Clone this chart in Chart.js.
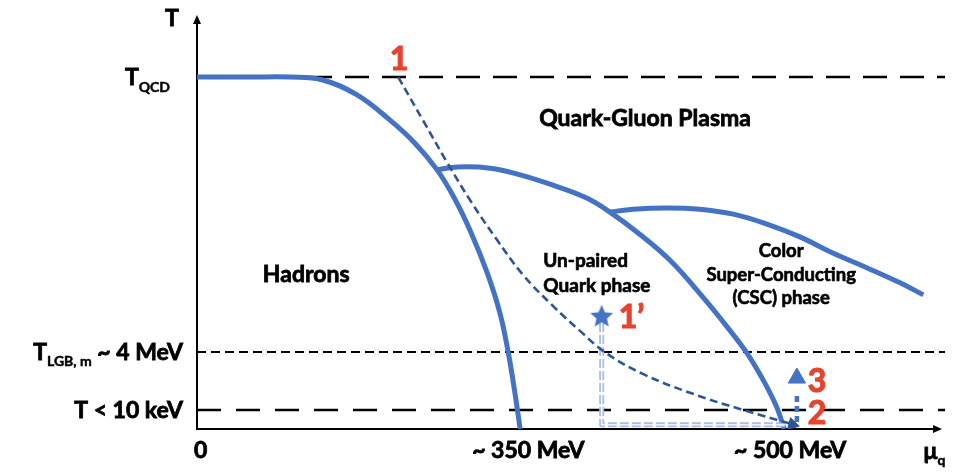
<!DOCTYPE html>
<html>
<head>
<meta charset="utf-8">
<script src="https://cdn.jsdelivr.net/npm/chart.js@4.4.1/dist/chart.umd.min.js"></script>
<style>
  html, body { margin: 0; padding: 0; background: #fff; }
  canvas { display: block; }
</style>
</head>
<body>
<canvas id="phaseChart" width="974" height="474"></canvas>
<script>
// schematic units: mu_q 0..100 along the axis, T 0..100 up the axis
const hadronX = [0, 7.1, 12.4, 16.8, 21.4, 25.8, 29.1, 32.1, 34.4, 36.6, 38.8, 40.5, 41.6, 42.5, 43.2];
const hadronT = [85.0, 85.0, 85.0, 84.3, 80.7, 74.6, 69.1, 62.6, 55.8, 47.6, 37.7, 28.0, 18.6, 8.7, 0];

const quarkX = [32.1, 34.8, 39.2, 43.2, 47.6, 52.1, 55.2, 58.8, 63.2, 67.6, 70.9, 73.5, 75.7, 77.5, 78.5];
const quarkT = [62.6, 63.3, 63.0, 61.4, 58.9, 55.8, 52.4, 47.6, 40.8, 31.9, 24.6, 18.4, 11.8, 5.3, 0];

const cscX = [55.2, 58.3, 62.8, 67.2, 71.7, 76.2, 80.6, 85.0, 89.6, 94.0, 97.1];
const cscT = [52.4, 53.1, 53.4, 53.1, 51.9, 49.5, 46.4, 42.5, 38.9, 35.3, 32.4];

// path 1 -> 2 (thin dashed)
const pathX = [26.9, 30.2, 33.4, 36.5, 40.1, 43.6, 47.6, 51.2, 54.5, 59.6, 66.3, 73.0, 79.9];
const pathT = [85.0, 74.6, 64.5, 55.3, 45.7, 37.2, 29.7, 23.7, 18.6, 13.3, 8.5, 4.6, 1.0];

// path 1' -> 2 (light double dashed)
const coolX = [54.1, 54.1, 79.3];
const coolT = [25.6, 1.0, 1.0];

// 2 -> 3 stem
const stemX = [80.2, 80.2];
const stemT = [1.7, 8.7];

const starPoint = { x: 54.1, y: 27.1 };
const point3 = { x: 80.2, y: 12.3 };
const arrowTip = { x: 79.6, y: 1.1 };

const yTickValues = [85.0, 18.6, 4.6];
const yTickLabels = [['T', 'QCD'], ['T', 'LGB, m', ' ~ 4 MeV'], ['T < 10 keV']];
const xTickValues = [0.5, 44.3, 79.3];
const xTickLabels = ['0', '~ 350 MeV', '~ 500 MeV'];

const regionText = [
  { lines: ['Quark-Gluon Plasma'], x: 59.9, y: 73.2 },
  { lines: ['Hadrons'], x: 14.6, y: 35.5 },
  { lines: ['Un-paired', 'Quark phase'], x: 46.3, y: 39.1 },
  { lines: ['Color', 'Super-Conducting', '(CSC) phase'], x: 78.1, y: 41.5 }
];
const regionStyle = [
  { size: 23, align: 'center', lh: 0 },
  { size: 23, align: 'center', lh: 0 },
  { size: 19, align: 'left', lh: 25 },
  { size: 18.5, align: 'center', lh: 23.5 }
];
const markerText = [
  { t: '1', x: 27.0, y: 89.6 },
  { t: '1\u2019', x: 58.1, y: 27.1 },
  { t: '3', x: 82.9, y: 11.6 },
  { t: '2', x: 82.9, y: 3.9 }
];

const BLUE = '#4472C4';
const DARK = '#2F5597';
const LIGHT = '#A9BDE5';
const RED = '#E8432F';
const FONT = 'Lato, "Open Sans", sans-serif';

function pts(xs, ys) { return xs.map((x, i) => ({ x, y: ys[i] })); }

function starImage(r, color) {
  const c = document.createElement('canvas');
  c.width = c.height = 2 * r + 2;
  const g = c.getContext('2d');
  g.fillStyle = color;
  g.beginPath();
  for (let i = 0; i < 10; i++) {
    const a = -Math.PI / 2 + i * Math.PI / 5;
    const rr = i % 2 ? r * 0.46 : r;
    g.lineTo(r + 1 + rr * Math.cos(a), r + 1 + rr * Math.sin(a));
  }
  g.closePath();
  g.fill();
  return c;
}

function curve(data, color, width, dash, order, tension) {
  return {
    data, showLine: true, borderColor: color, borderWidth: width, borderDash: dash || [],
    pointRadius: 0, tension: tension === undefined ? 0.4 : tension, clip: false, order,
    borderCapStyle: 'butt', borderJoinStyle: 'round'
  };
}

function refLine(t, width, dash) {
  return {
    data: [{ x: 0, y: t }, { x: 100, y: t }], showLine: true, borderColor: '#000',
    borderWidth: width, borderDash: dash, pointRadius: 0, clip: false, order: 9
  };
}

// text with subscripts: parts alternate normal, subscript, normal
function drawParts(ctx, parts, xPos, yBase, size, align) {
  const big = `bold ${size}px ${FONT}`, small = `bold ${Math.round(size * 0.62)}px ${FONT}`;
  const widths = parts.map((p, i) => { ctx.font = i % 2 ? small : big; return ctx.measureText(p).width; });
  const total = widths.reduce((a, b) => a + b, 0);
  let cx = align === 'right' ? xPos - total : align === 'center' ? xPos - total / 2 : xPos;
  ctx.textAlign = 'left';
  ctx.textBaseline = 'alphabetic';
  ctx.strokeStyle = ctx.fillStyle;
  parts.forEach((p, i) => {
    ctx.font = i % 2 ? small : big;
    const yy = yBase + (i % 2 ? size * 0.28 : 0);
    ctx.lineWidth = (i % 2 ? 0.6 : 1) * size * 0.035;
    ctx.fillText(p, cx, yy);
    ctx.strokeText(p, cx, yy);
    cx += widths[i];
  });
}

const yTickGap = [27, 14, 14];

const axesPlugin = {
  id: 'phaseAxes',
  beforeDatasetsDraw(chart) {
    const { ctx, scales: { x, y } } = chart;
    const x0 = x.getPixelForValue(0), y0 = y.getPixelForValue(0);
    const yTop = y.getPixelForValue(100), xEnd = x.getPixelForValue(99.6);
    ctx.save();
    ctx.strokeStyle = '#000';
    ctx.fillStyle = '#000';
    ctx.lineWidth = 2;
    ctx.beginPath();
    ctx.moveTo(x0, y0 + 1); ctx.lineTo(x0, yTop + 6);
    ctx.moveTo(x0 - 1, y0); ctx.lineTo(xEnd - 6, y0);
    ctx.stroke();
    ctx.beginPath();
    ctx.moveTo(x0, yTop); ctx.lineTo(x0 - 4, yTop + 9); ctx.lineTo(x0 + 4, yTop + 9); ctx.closePath();
    ctx.moveTo(xEnd, y0); ctx.lineTo(xEnd - 9, y0 - 4); ctx.lineTo(xEnd - 9, y0 + 4); ctx.closePath();
    ctx.fill();
    ctx.restore();
  },
  afterDatasetsDraw(chart) {
    const { ctx, scales: { x, y } } = chart;
    const x0 = x.getPixelForValue(0), y0 = y.getPixelForValue(0);
    ctx.save();
    ctx.fillStyle = '#000';

    // axis titles
    drawParts(ctx, ['T'], x0 - 25, y.getPixelForValue(100) + 11, 23, 'center');
    drawParts(ctx, ['\u03bc', 'q'], x.getPixelForValue(98.6), y0 + 30, 23, 'center');

    // y ticks
    yTickValues.forEach((v, i) => {
      drawParts(ctx, yTickLabels[i], x0 - yTickGap[i], y.getPixelForValue(v) + 8, 23, 'right');
    });
    // x ticks
    xTickValues.forEach((v, i) => {
      drawParts(ctx, [xTickLabels[i]], x.getPixelForValue(v), y0 + 29, 23, 'center');
    });

    // region names
    regionText.forEach((r, i) => {
      const s = regionStyle[i];
      r.lines.forEach((line, k) => {
        drawParts(ctx, [line], x.getPixelForValue(r.x), y.getPixelForValue(r.y) + k * s.lh, s.size, s.align);
      });
    });

    // red markers
    ctx.fillStyle = RED;
    markerText.forEach(m => {
      drawParts(ctx, [m.t], x.getPixelForValue(m.x), y.getPixelForValue(m.y) + 11.5, 32, 'center');
    });
    ctx.restore();
  }
};

new Chart(document.getElementById('phaseChart'), {
  type: 'scatter',
  data: {
    datasets: [
      { data: [starPoint], pointStyle: starImage(12, BLUE), pointRadius: 12, order: 0 },
      { data: [point3], pointStyle: 'triangle', pointRadius: 10, backgroundColor: BLUE, borderColor: BLUE, borderWidth: 1, order: 0 },
      { data: [arrowTip], pointStyle: 'triangle', rotation: 104, pointRadius: 7, backgroundColor: DARK, borderColor: DARK, borderWidth: 1, order: 0 },
      curve(pts(pathX, pathT), DARK, 2.6, [8, 4.5], 1),
      curve(pts(coolX, coolT), '#ffffff', 1.4, [9, 3], 2, 0),
      curve(pts(coolX, coolT), LIGHT, 5, [9, 3], 3, 0),
      curve(pts(stemX, stemT), BLUE, 4.5, [6, 4], 3, 0),
      curve(pts(hadronX, hadronT), BLUE, 5, null, 4),
      curve(pts(quarkX, quarkT), BLUE, 5, null, 4),
      curve(pts(cscX, cscT), BLUE, 5, null, 4),
      refLine(yTickValues[0], 2.5, [24, 13]),
      refLine(yTickValues[1], 2, [9, 5]),
      refLine(yTickValues[2], 2.5, [24, 15])
    ]
  },
  options: {
    responsive: false,
    animation: false,
    layout: { padding: { left: 197, right: 29, top: 15, bottom: 45 } },
    plugins: { legend: { display: false }, tooltip: { enabled: false } },
    scales: {
      x: { type: 'linear', min: 0, max: 100, display: false },
      y: { type: 'linear', min: 0, max: 100, display: false }
    }
  },
  plugins: [axesPlugin]
});
</script>
</body>
</html>
